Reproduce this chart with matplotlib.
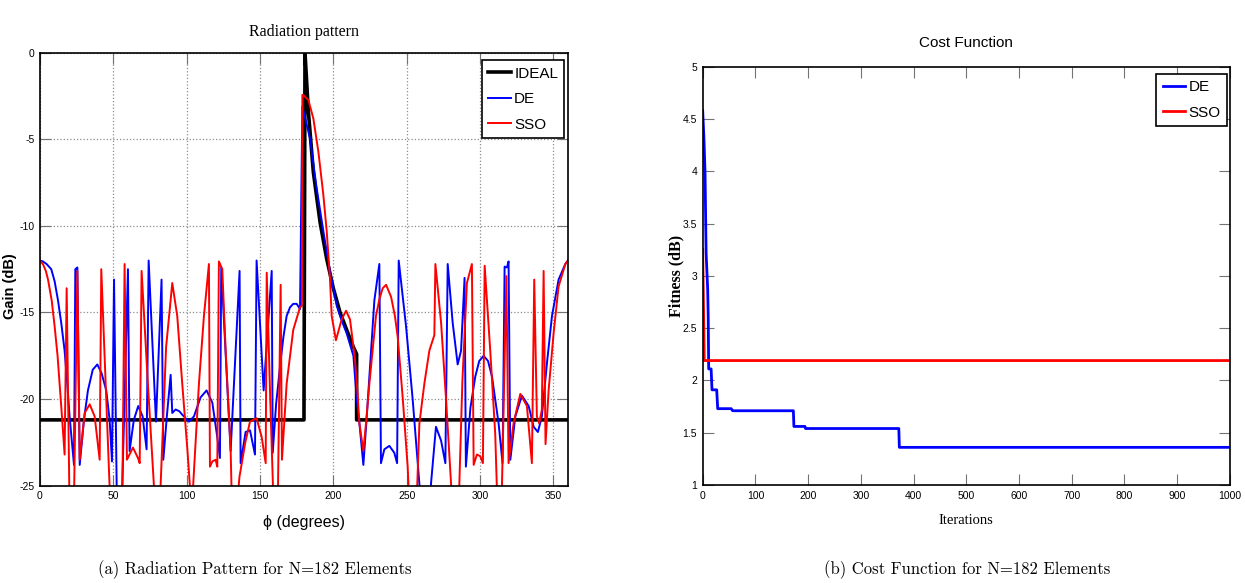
import matplotlib
matplotlib.use("Agg")
import matplotlib.pyplot as plt

plt.rcParams['axes.unicode_minus'] = False

SANS = ['Liberation Sans', 'DejaVu Sans']
SERIF = ['Liberation Serif', 'DejaVu Serif']
CAPTION = ['cmr10', 'DejaVu Serif']

# ---- radiation pattern ----
ideal_phi = [0, 180, 180.7, 183, 186.4, 191, 195.5, 200, 204.6, 209.1, 213.7, 215.9, 215.9, 360]
ideal_gain = [-21.2, -21.2, 0, -3.4, -6.9, -9.8, -11.9, -13.6, -15.0, -16.0, -17.0, -17.4, -21.2, -21.2]

de_phi = [0, 2, 4.5, 7.7, 10, 12.3, 14.5, 16.8, 18.5, 20.2, 23.2, 24.1, 25.5, 27.1, 30, 32.7, 36,
          39.1, 42, 45.2, 47.5, 49.1, 50.5, 52.6, 55.5, 60, 61.1, 64, 67, 70, 72.7, 74.1, 79.1,
          82.9, 84.1, 86.5, 89.1, 90.2, 92.5, 95, 97, 101.6, 105, 109.5, 113.6, 117.5, 120.9,
          122.7, 123.6, 130, 136.1, 136.8, 140.2, 143.2, 146.6, 147.7, 152.5, 158, 158.7, 161,
          163.7, 166, 168.2, 170.5, 172.7, 175, 177.3, 178.9, 184.1, 188.6, 193.2, 197.7,
          202.3, 205, 209.1, 213.7, 215.9, 217.8, 220.5, 222.5, 224.6, 228, 231.4, 232.5,
          234.8, 238.2, 241.6, 243.5, 244.6, 249.6, 254.1, 258.7, 260, 265.5, 266.6, 270,
          273.5, 276.4, 278, 281.4, 284.8, 287.1, 289.5, 290.4, 293.5, 296.8, 299.5, 302.5,
          305.5, 308.2, 312.7, 315.4, 316.8, 318.4, 319.5, 320.7, 324.1, 328.6, 333.2, 336.6,
          339.5, 342.2, 345.7, 349.1, 353.6, 358.2, 360]
de_gain = [-12.0, -12.05, -12.2, -12.5, -13.2, -14.3, -15.6, -17.2, -19.0, -21.0, -23.8, -12.5,
           -12.4, -23.8, -21.2, -19.5, -18.3, -18.0, -18.5, -19.5, -21.2, -23.6, -13.1, -27,
           -27, -12.5, -23.0, -21.2, -20.4, -21.0, -22.9, -12.0, -21.3, -13.1, -23.5, -21.0,
           -18.6, -20.8, -20.6, -20.7, -20.9, -21.3, -21.0, -19.9, -19.5, -20.2, -22.2, -23.4,
           -12.4, -23.0, -12.6, -23.7, -21.9, -21.8, -23.2, -12.0, -19.5, -12.6, -23.1, -20.3,
           -18.1, -16.4, -15.2, -14.7, -14.5, -14.5, -14.8, -3.1, -4.95, -7.8, -10.3, -12.6,
           -14.6, -15.3, -16.2, -17.5, -19.9, -21.4, -23.8, -21.4, -18.7, -14.3, -12.2, -23.7,
           -22.9, -22.7, -23.1, -23.7, -12.0, -15.8, -20.0, -24.9, -27, -27, -24.9, -21.6,
           -22.4, -23.7, -12.2, -15.6, -18.0, -17.2, -13.0, -23.9, -20.5, -18.7, -17.8, -17.5,
           -17.8, -18.7, -21.4, -23.7, -12.35, -12.4, -12.05, -23.5, -21.0, -19.8, -20.4,
           -21.6, -21.9, -21.0, -17.9, -15.2, -13.1, -12.2, -12.0]

sso_phi = [0, 2, 4, 5.5, 8, 10, 12, 13.4, 15, 16.8, 18.2, 20.3, 23.0, 25.5, 27.1, 30.5, 33.9,
           37.3, 40.7, 41.8, 47.5, 48.5, 56, 57.7, 59.3, 63.4, 66.8, 68, 69.3, 73.5, 77.7, 78.5,
           81.5, 82.3, 86, 90.2, 93.6, 97, 100.5, 102.3, 103, 104, 104.5, 108.4, 111.8, 115.2,
           115.9, 117.5, 119.8, 120.9, 122, 124.3, 126.6, 130, 131.1, 133.5, 136, 140, 143.2,
           147.7, 151.2, 153.9, 154.6, 157, 159.6, 162, 164.1, 165, 168.2, 172.7, 177.3,
           178.6, 178.9, 179.5, 183, 186.4, 189.8, 193.2, 195.5, 197.7, 198.9, 201.8, 205.7,
           208.7, 211.4, 214.8, 216.4, 217.8, 220.5, 222.5, 224.6, 227, 229.1, 231.5, 233.7,
           236, 239.4, 242, 243.9, 247.3, 250.7, 252.3, 256.4, 258.7, 262.1, 265.5, 268.9,
           269.6, 273.5, 276.9, 280.3, 281, 285.2, 288, 291.1, 294.5, 295.7, 297.9, 300.2,
           302, 303.2, 307, 310.4, 312.2, 314.5, 318, 319.5, 322.9, 327.5, 332, 335.4, 337,
           338.8, 340.4, 342.2, 343.4, 344.7, 346.8, 350.2, 353.6, 358.2, 360]
sso_gain = [-12.0, -12.2, -12.6, -13.1, -14.3, -15.8, -17.5, -19.1, -21.0, -23.2, -13.6, -27,
            -27, -12.6, -23.5, -20.8, -20.3, -21.0, -23.5, -12.5, -25.1, -27, -27, -12.2,
            -23.5, -22.8, -23.4, -23.7, -12.6, -19.0, -25.0, -27, -27, -24.9, -17.0, -13.3,
            -15.2, -19.1, -22.9, -25.1, -27, -27, -24.9, -19.1, -15.2, -12.2, -23.9, -23.6,
            -23.5, -23.9, -12.05, -12.5, -17.2, -22.9, -27, -27, -24.5, -22.5, -21.3, -21.1,
            -22.2, -23.7, -12.7, -20.0, -27, -27, -13.4, -23.5, -19.1, -16.0, -14.7, -14.6,
            -2.44, -2.44, -2.73, -3.8, -5.7, -8.2, -10.3, -13.0, -15.2, -16.6, -15.4, -14.9,
            -15.4, -17.7, -19.5, -21.4, -23.0, -21.2, -19.1, -17.0, -15.2, -14.2, -13.6, -13.4,
            -14.1, -15.2, -16.4, -19.9, -23.9, -27, -27, -21.4, -19.1, -17.2, -16.3, -12.2,
            -15.6, -20.05, -24.9, -27, -27, -19.0, -13.3, -12.2, -23.8, -23.2, -23.3, -23.7,
            -12.3, -17.2, -22.0, -27, -27, -12.9, -23.7, -21.4, -19.7, -20.4, -23.7, -13.1,
            -21.0, -21.4, -20.6, -12.6, -22.6, -19.5, -16.2, -13.5, -12.2, -12.0]

# ---- cost function ----
de_iter = [0, 2.5, 4.5, 6.5, 9.5, 10.5, 11.4, 16, 17.7, 26.6, 28.5, 54, 57, 172, 173, 194, 195,
           372, 373, 1000]
de_fit = [4.58, 4.30, 3.98, 3.22, 2.87, 2.6, 2.11, 2.11, 1.91, 1.91, 1.73, 1.73, 1.71, 1.71,
          1.56, 1.56, 1.54, 1.54, 1.36, 1.36]
sso_iter = [0, 3, 1000]
sso_fit = [3.25, 2.19, 2.19]

phi_ticks = [0, 50, 100, 150, 200, 250, 300, 350]
gain_ticks = [-25, -20, -15, -10, -5, 0]
iter_ticks = [0, 100, 200, 300, 400, 500, 600, 700, 800, 900, 1000]
fit_ticks = [1, 1.5, 2, 2.5, 3, 3.5, 4, 4.5, 5]

fig = plt.figure(figsize=(12.45, 5.83), dpi=100)

# left panel
ax1 = fig.add_axes([0.0321, 0.1669, 0.4241, 0.7427])
ax1.plot(ideal_phi, ideal_gain, color='black', lw=2.6, label='IDEAL')
ax1.plot(de_phi, de_gain, color='blue', lw=1.4, label='DE')
ax1.plot(sso_phi, sso_gain, color='red', lw=1.4, label='SSO')
ax1.set_xlim(0, 360)
ax1.set_ylim(-25, 0)
ax1.set_xticks(phi_ticks)
ax1.set_yticks(gain_ticks)
ax1.grid(True, linestyle=':', color='0.55', lw=0.9)
ax1.set_title('Radiation pattern', family=SERIF, fontsize=11.5, pad=12)
ax1.set_xlabel('ϕ (degrees)', family=SANS, fontsize=11.5, labelpad=10)
ax1.set_ylabel('Gain (dB)', family=SANS, fontsize=10.5, fontweight='bold')
ax1.yaxis.set_label_coords(-0.043, 0.46)
leg = ax1.legend(loc='upper right', bbox_to_anchor=(0.993, 0.982), borderaxespad=0,
                 prop={'family': SANS, 'size': 11}, fancybox=False, edgecolor='black',
                 framealpha=1, handlelength=1.5, handletextpad=0.2, borderpad=0.4,
                 labelspacing=0.75)
leg.get_frame().set_linewidth(1.2)

# right panel
ax2 = fig.add_axes([0.5644, 0.1681, 0.4235, 0.7175])
ax2.plot(de_iter, de_fit, color='blue', lw=2.0, label='DE')
ax2.plot(sso_iter, sso_fit, color='red', lw=2.0, label='SSO')
ax2.set_xlim(0, 1000)
ax2.set_ylim(1, 5)
ax2.set_xticks(iter_ticks)
ax2.set_yticks(fit_ticks)
ax2.set_yticklabels(['1', '1.5', '2', '2.5', '3', '3.5', '4', '4.5', '5'])
ax2.set_title('Cost Function', family=SANS, fontsize=11, pad=14)
ax2.set_xlabel('Iterations', family=SERIF, fontsize=10.5, labelpad=10)
ax2.set_ylabel('Fitness (dB)', family=SERIF, fontsize=11.5, fontweight='bold')
ax2.yaxis.set_label_coords(-0.034, 0.5)
leg2 = ax2.legend(loc='upper right', bbox_to_anchor=(0.994, 0.982), borderaxespad=0,
                  prop={'family': SANS, 'size': 11}, fancybox=False, edgecolor='black',
                  framealpha=1, handlelength=1.5, handletextpad=0.2, borderpad=0.4,
                  labelspacing=0.75)
leg2.get_frame().set_linewidth(1.2)

for ax in (ax1, ax2):
    ax.tick_params(direction='in', top=True, right=True, length=8, width=0.8,
                   color='0.45', labelsize=7.5, pad=4)
    for lab in ax.get_xticklabels() + ax.get_yticklabels():
        lab.set_family(SANS)
    for sp in ax.spines.values():
        sp.set_linewidth(1.2)

fig.text(0.205, 0.015, '(a) Radiation Pattern for N=182 Elements', family=CAPTION,
         fontsize=12, ha='center')
fig.text(0.777, 0.015, '(b) Cost Function for N=182 Elements', family=CAPTION,
         fontsize=12, ha='center')

fig.savefig('out.png', dpi=100)
